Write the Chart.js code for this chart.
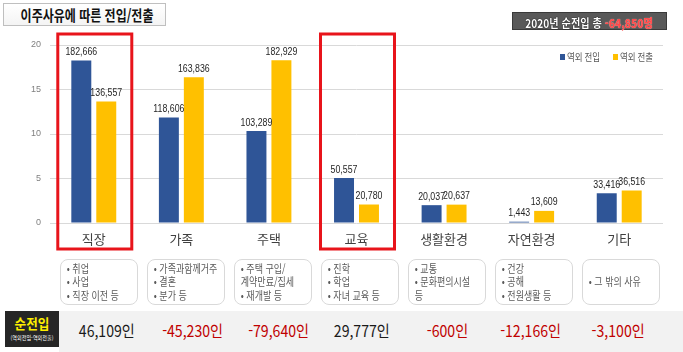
<!DOCTYPE html>
<html lang="ko">
<head>
<meta charset="utf-8">
<script src="https://cdn.jsdelivr.net/npm/chart.js@4.4.1/dist/chart.umd.min.js"></script>
<style>
  html, body { margin:0; padding:0; background:#fff; }
  body { width:683px; height:352px; position:relative; overflow:hidden; font-family:"Noto Sans CJK KR","Noto Sans",sans-serif; }
  #chartWrap { position:absolute; left:0; top:0; width:683px; height:260px; }
  #title { position:absolute; left:3px; top:3px; width:161px; height:21px; border:1px solid #bfbfbf; background:linear-gradient(#ffffff,#f4f4f4); text-align:center; line-height:21px; }
  #title span { display:inline-block; transform:scaleX(0.8); font-weight:700; font-size:15px; color:#111; white-space:nowrap; }
  #total { position:absolute; left:512px; top:12px; width:153px; height:16px; background:#595959; border:1px solid #3a3a3a; text-align:center; line-height:16px; }
  #total span { display:inline-block; transform:scaleX(0.85); font-weight:700; font-size:12px; color:#fff; white-space:nowrap; text-shadow:0 0 1px #000, 0 0 1px #000; }
  #total span b { color:#ff4a4a; text-shadow:0 0 1px #ffd0d0; }
  .rbox { position:absolute; top:259px; width:76px; height:44px; border:1px solid #d9d9d9; border-radius:8px; background:#fff; display:flex; flex-direction:column; justify-content:center; box-sizing:content-box; }
  .rbox div { font-size:11px; line-height:13.5px; color:#595959; white-space:nowrap; transform:scaleX(0.82); transform-origin:left center; padding-left:7px; }
  #band { position:absolute; left:59px; top:311px; width:624px; height:41px; background:#f2f2f2; }
  #netTitle { position:absolute; left:5px; top:311px; width:54px; height:36px; background:#262626; text-align:center; }
  #netTitle .a { position:absolute; left:0; right:0; top:4px; font-weight:700; font-size:14px; line-height:16px; color:#ffee00; transform:scaleX(0.9); }
  #netTitle .b { position:absolute; left:-10px; right:-10px; top:23px; font-size:6px; line-height:8px; color:#fff; transform:scaleX(0.85); white-space:nowrap; }
  .netv { position:absolute; top:320px; width:100px; margin-left:-50px; text-align:center; font-size:16px; line-height:20px; white-space:nowrap; }
  .netv span { display:inline-block; transform:scaleX(0.88); }
</style>
</head>
<body>
<div id="chartWrap"><canvas id="c" width="683" height="260"></canvas></div>
<div id="title"><span>이주사유에 따른 전입/전출</span></div>
<div id="total"><span>2020년 순전입 총 <b>-64,850명</b></span></div>
<div id="band"></div>
<div id="netTitle"><div class="a">순전입</div><div class="b">(역외전입-역외전출)</div></div>
<script>
// ---- data ----
const categories = ['직장', '가족', '주택', '교육', '생활환경', '자연환경', '기타'];
const inflow  = [182666, 118606, 103289, 50557, 20037, 1443, 33416];   // 역외 전입 (명)
const outflow = [136557, 163836, 182929, 20780, 20637, 13609, 36516];  // 역외 전출 (명)
const netValues = [46109, -45230, -79640, 29777, -600, -12166, -3100]; // 순전입
const seriesNames = ['역외 전입', '역외 전출'];
const yTicks = [0, 5, 10, 15, 20]; // 만 명
const highlighted = [0, 3];
const reasons = [
  ['• 취업', '• 사업', '• 직장 이전 등'],
  ['• 가족과함께거주', '• 결혼', '• 분가 등'],
  ['• 주택 구입/', '   계약만료/집세', '• 재개발 등'],
  ['• 진학', '• 학업', '• 자녀 교육 등'],
  ['• 교통', '• 문화편의시설', '   등'],
  ['• 건강', '• 공해', '• 전원생활 등'],
  ['• 그 밖의 사유']
];
// ---- layout ----
const boxLeft = [60, 147, 234, 321, 408, 495, 582];
const netCenter = [107, 193, 279, 362, 447, 531, 618];
const colors = ['#2f5597', '#ffc000'];

const fmt = v => v.toLocaleString('en-US');

const labelPlugin = {
  id: 'valLabels',
  afterDatasetsDraw(chart) {
    const ctx = chart.ctx;
    ctx.save();
    ctx.fillStyle = '#262626';
    ctx.font = '10px "Liberation Sans", Arial, sans-serif';
    ctx.textAlign = 'center';
    ctx.textBaseline = 'bottom';
    const raw = [inflow, outflow];
    chart.data.datasets.forEach((ds, di) => {
      const meta = chart.getDatasetMeta(di);
      meta.data.forEach((bar, i) => {
        ctx.save();
        ctx.translate(bar.x, bar.y - 3);
        ctx.scale(0.88, 1.1);
        ctx.fillText(fmt(raw[di][i]), 0, 0);
        ctx.restore();
      });
    });
    ctx.restore();
  }
};

const decoPlugin = {
  id: 'deco',
  afterDraw(chart) {
    const ctx = chart.ctx;
    const xs = chart.scales.x;
    ctx.save();
    // red highlight boxes
    ctx.strokeStyle = '#e8141b';
    ctx.lineWidth = 3;
    highlighted.forEach(i => {
      const cx = xs.getPixelForValue(i);
      ctx.strokeRect(cx - 36, 34, 74, 215);
    });
    // legend
    ctx.font = '10px "Noto Sans CJK KR", sans-serif';
    ctx.textBaseline = 'middle';
    ctx.textAlign = 'left';
    const lx = [560, 613];
    chart.data.datasets.forEach((ds, di) => {
      ctx.fillStyle = ds.backgroundColor;
      ctx.fillRect(lx[di], 54, 5, 6);
      ctx.save();
      ctx.translate(lx[di] + 7, 57);
      ctx.scale(0.85, 1);
      ctx.fillStyle = '#595959';
      ctx.fillText(ds.label, 0, 0);
      ctx.restore();
    });
    ctx.restore();
  }
};

new Chart(document.getElementById('c'), {
  type: 'bar',
  data: {
    labels: categories,
    datasets: [
      { label: seriesNames[0], data: inflow.map(v => v / 10000), backgroundColor: colors[0], categoryPercentage: 0.57, barPercentage: 0.8 },
      { label: seriesNames[1], data: outflow.map(v => v / 10000), backgroundColor: colors[1], categoryPercentage: 0.57, barPercentage: 0.8 }
    ]
  },
  options: {
    responsive: false,
    animation: false,
    layout: { padding: { top: 45, right: 20, left: 0, bottom: 0 } },
    plugins: { legend: { display: false }, tooltip: { enabled: false } },
    scales: {
      x: {
        grid: { display: false, drawTicks: false },
        border: { display: false },
        ticks: { color: '#404040', font: { size: 13, family: '"Noto Sans CJK KR", sans-serif' }, padding: 8, maxRotation: 0 },
        afterFit(s) { s.height = 37; }
      },
      y: {
        min: 0, max: 20,
        afterBuildTicks(s) { s.ticks = yTicks.map(v => ({ value: v })); },
        grid: { color: '#d9d9d9', drawTicks: false, lineWidth: 1 },
        border: { display: false },
        ticks: { color: '#808080', font: { size: 9, family: '"Liberation Sans", Arial, sans-serif' }, padding: 9 },
        afterFit(s) { s.width = 50; }
      }
    }
  },
  plugins: [labelPlugin, decoPlugin]
});

// reason boxes
reasons.forEach((lines, i) => {
  const d = document.createElement('div');
  d.className = 'rbox';
  d.style.left = boxLeft[i] + 'px';
  lines.forEach(t => {
    const l = document.createElement('div');
    l.textContent = t;
    d.appendChild(l);
  });
  document.body.appendChild(d);
});
// net values
netValues.forEach((v, i) => {
  const d = document.createElement('div');
  d.className = 'netv';
  d.style.left = netCenter[i] + 'px';
  d.style.color = v < 0 ? '#c00000' : '#1a1a1a';
  const s = document.createElement('span');
  s.textContent = fmt(v) + '인';
  d.appendChild(s);
  document.body.appendChild(d);
});
</script>
</body>
</html>
